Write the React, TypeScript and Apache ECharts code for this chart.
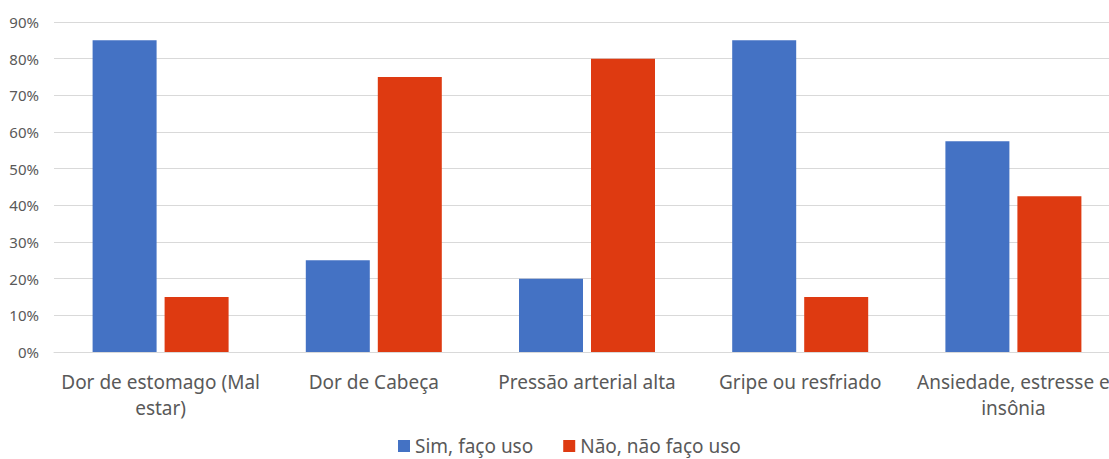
import React, { useEffect, useRef } from "react";
import * as echarts from "echarts";

const categories = [
  "Dor de estomago (Mal estar)",
  "Dor de Cabeça",
  "Pressão arterial alta",
  "Gripe ou resfriado",
  "Ansiedade, estresse e insônia",
];
const labelLines: Record<string, string> = {
  "Dor de estomago (Mal estar)": "Dor de estomago (Mal\nestar)",
  "Ansiedade, estresse e insônia": "Ansiedade, estresse e\ninsônia",
};
const simValues = [85, 25, 20, 85, 57.5];
const naoValues = [15, 75, 80, 15, 42.5];
const seriesNames = ["Sim, faço uso", "Não, não faço uso"];

export default function App() {
  const ref = useRef<HTMLDivElement>(null);
  useEffect(() => {
    document.body.style.margin = "0";
    document.body.style.overflow = "hidden";
    const chart = echarts.init(ref.current!, null, { renderer: "svg" });
    const font = "'Noto Sans', 'Open Sans', sans-serif";
    chart.setOption({
      animation: false,
      textStyle: { fontFamily: font },
      grid: { left: 54, right: 0, top: 22, bottom: 107, containLabel: false },
      legend: {
        left: 393,
        top: 431,
        itemWidth: 12,
        itemHeight: 12,
        itemGap: 30,
        icon: "rect",
        textStyle: { fontSize: 19, lineHeight: 20, color: "#595959", fontFamily: font },
        data: seriesNames,
      },
      xAxis: {
        type: "category",
        data: categories,
        axisLine: { show: true, lineStyle: { color: "#D9D9D9", width: 1 } },
        axisTick: { show: false },
        axisLabel: {
          interval: 0,
          color: "#595959",
          fontSize: 19,
          lineHeight: 26,
          margin: 17,
          fontFamily: font,
          formatter: (v: string) => labelLines[v] ?? v,
        },
      },
      yAxis: {
        type: "value",
        min: 0,
        max: 90,
        interval: 10,
        axisLine: { show: false },
        axisTick: { show: false },
        splitLine: { lineStyle: { color: "#D9D9D9", width: 1 } },
        axisLabel: {
          color: "#595959",
          fontSize: 15,
          margin: 15,
          fontFamily: font,
          formatter: (v: number) => v + "%",
        },
      },
      series: [
        {
          name: seriesNames[0],
          type: "bar",
          data: simValues,
          barWidth: 64,
          barGap: "12.5%",
          itemStyle: { color: "#4472C4" },
        },
        {
          name: seriesNames[1],
          type: "bar",
          data: naoValues,
          barWidth: 64,
          barGap: "12.5%",
          itemStyle: { color: "#DE3A11" },
        },
      ],
    });
    return () => chart.dispose();
  }, []);
  return (
    <div style={{ position: "fixed", left: 0, top: 0, width: 1109, height: 459, overflow: "hidden", background: "#fff" }}>
      <div ref={ref} style={{ width: 1120, height: 459 }} />
    </div>
  );
}
